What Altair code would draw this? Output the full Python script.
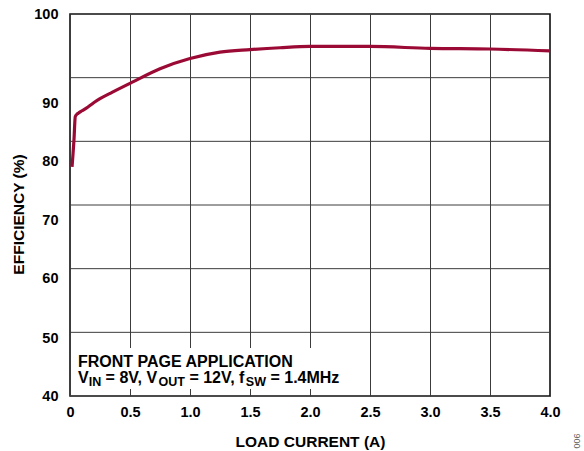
import altair as alt
import pandas as pd

# Efficiency vs. load current curve
load_current = [0.017, 0.025, 0.033, 0.044, 0.06, 0.075, 0.1, 0.15, 0.2, 0.25, 0.35, 0.5,
                0.75, 1.0, 1.25, 1.5, 1.75, 2.0, 2.5, 3.0, 3.5, 4.0]
efficiency = [76.0, 78.0, 80.2, 83.9, 84.3, 84.5, 84.8, 85.4, 86.1, 86.7, 87.7, 89.1,
              91.4, 93.0, 94.0, 94.4, 94.7, 94.9, 94.9, 94.6, 94.5, 94.2]

x_ticks = [0, 0.5, 1.0, 1.5, 2.0, 2.5, 3.0, 3.5, 4.0]
y_grid = [50, 60, 70, 80, 90]

note_title = "FRONT PAGE APPLICATION"
note_parts = [("V", False), ("IN", True), ("= 8V, V", False), ("OUT", True),
              ("= 12V, f", False), ("SW", True), ("= 1.4MHz", False)]
figure_code = "006"

FONT = "Liberation Sans"
LINE_COLOR = "#9b0a35"
GRID_COLOR = "#3c3c3c"

W, H = 480, 382

xscale = alt.Scale(domain=[0, 4], nice=False, zero=False)
yscale = alt.Scale(domain=[40, 100], nice=False, zero=False)

x_axis = alt.Axis(values=x_ticks, labelExpr="datum.value == 0 ? '0' : format(datum.value, '.1f')",
                  grid=True, gridColor=GRID_COLOR, gridWidth=1, ticks=False, domain=False,
                  labelFlush=False, labelPadding=9, title="LOAD CURRENT (A)",
                  titleX=240, titleY=50, titleBaseline="alphabetic", titleAnchor="middle")
y_axis = alt.Axis(values=[40.0, 49.1, 58.4, 67.5, 76.8, 86.0, 100.0],
                  labelExpr="format(round(datum.value / 10) * 10, 'd')",
                  grid=False, ticks=False, domain=False, labelPadding=12, labelOverlap=False,
                  title="EFFICIENCY (%)", titleX=-52, titleY=200, titleAngle=-90,
                  titleAlign="center", titleBaseline="middle")

curve_df = pd.DataFrame({"current": load_current, "eff": efficiency})

grid_rules = alt.Chart(pd.DataFrame({"g": y_grid})).mark_rule(
    color=GRID_COLOR, strokeWidth=1
).encode(y=alt.Y("g:Q", scale=yscale, axis=y_axis))

curve = alt.Chart(curve_df).mark_line(
    color=LINE_COLOR, strokeWidth=3.2, interpolate="monotone"
).encode(
    x=alt.X("current:Q", scale=xscale, axis=x_axis),
    y=alt.Y("eff:Q", scale=yscale, axis=y_axis),
)

one = pd.DataFrame({"a": [0]})

# white panel behind the annotation
note_box = alt.Chart(one).mark_rect(color="white").encode(
    x=alt.value(2), x2=alt.value(288), y=alt.value(334), y2=alt.value(375)
)

# Arial/Liberation Sans Bold advance widths (per 1000 em) for laying out the second line
ADV = {'V': 667, 'I': 278, 'N': 722, ' ': 278, '=': 584, '8': 556, ',': 278, 'O': 778,
       'U': 722, 'T': 611, '1': 556, '2': 556, 'f': 333, 'S': 667, 'W': 944, '.': 278,
       '4': 556, 'M': 833, 'H': 722, 'z': 500}

MAIN, SUB = 16, 12.5
layers = [grid_rules, note_box, curve]

layers.append(alt.Chart(one).mark_text(
    font=FONT, fontWeight="bold", fontSize=MAIN, align="left", baseline="alphabetic", color="black"
).encode(x=alt.value(8), y=alt.value(352.5), text=alt.value(note_title)))

cursor = 8.0
for i, (txt, is_sub) in enumerate(note_parts):
    size = SUB if is_sub else MAIN
    if not is_sub and i > 0:
        cursor += ADV[' '] / 1000 * MAIN
    layers.append(alt.Chart(one).mark_text(
        font=FONT, fontWeight="bold", fontSize=size, align="left", baseline="alphabetic", color="black"
    ).encode(x=alt.value(cursor), y=alt.value(372 if is_sub else 368.5), text=alt.value(txt)))
    cursor += sum(ADV.get(c, 556) for c in txt) / 1000 * size

layers.append(alt.Chart(one).mark_text(
    font=FONT, fontSize=9, angle=270, align="center", baseline="middle", color="#666666"
).encode(x=alt.value(507), y=alt.value(427), text=alt.value(figure_code)))

chart = alt.layer(*layers).properties(
    width=W, height=H,
    autosize=alt.AutoSizeParams(type="none"),
    padding={"left": 70, "top": 14, "right": 34, "bottom": 55},
).configure_view(
    stroke="#111111", strokeWidth=1.6
).configure_axis(
    labelFont=FONT, labelFontWeight="bold", labelFontSize=14.5, labelColor="black",
    titleFont=FONT, titleFontWeight="bold", titleFontSize=15.5, titleColor="black",
)

chart.save("out.html", embed_options={"renderer": "svg", "actions": False})
